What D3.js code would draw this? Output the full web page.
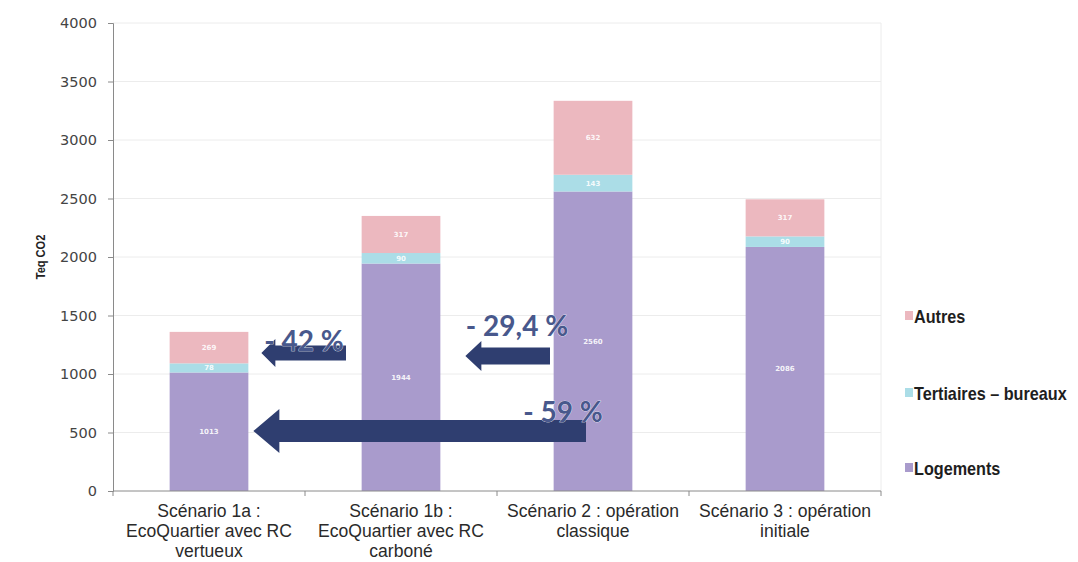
<!DOCTYPE html>
<html>
<head>
<meta charset="utf-8">
<script src="https://cdn.jsdelivr.net/npm/d3@7"></script>
<style>
  html, body { margin: 0; padding: 0; background: #fff; }
  svg { display: block; }
</style>
</head>
<body>
<svg id="chart" width="1078" height="562"></svg>
<script>
// Scenarios (x categories), each label split into lines
const categories = ["s1a", "s1b", "s2", "s3"];
const categoryLabels = [
  ["Scénario 1a :", "EcoQuartier avec RC", "vertueux"],
  ["Scénario 1b :", "EcoQuartier avec RC", "carboné"],
  ["Scénario 2 : opération", "classique"],
  ["Scénario 3 : opération", "initiale"]
];

// Series values (Teq CO2), stacked bottom to top
const seriesNames = ["Logements", "Tertiaires – bureaux", "Autres"];
const logements  = [1013, 1944, 2560, 2086];
const tertiaires = [78, 90, 143, 90];
const autres     = [269, 317, 632, 317];

const yTicks = [0, 500, 1000, 1500, 2000, 2500, 3000, 3500, 4000];

// Reduction annotations: arrow from scenario (from) pointing to scenario (to)
const reductions = [
  { text: "- 42 %",   from: 1, to: 0 },
  { text: "- 29,4 %", from: 2, to: 1 },
  { text: "- 59 %",   from: 2, to: 0 }
];

const colors = ["#a99bcc", "#abdde7", "#ecb8bf"];

const svg = d3.select("#chart");
const plotLeft = 113, plotRight = 881, plotTop = 23, plotBottom = 491;

const x = d3.scaleBand().domain(categories).range([plotLeft, plotRight]).paddingInner(0.59).paddingOuter(0.295);
const y = d3.scaleLinear().domain([0, 4000]).range([plotBottom, plotTop]);

// gridlines
svg.append("g").selectAll("line").data(yTicks.slice(1)).join("line")
  .attr("x1", plotLeft).attr("x2", plotRight)
  .attr("y1", d => y(d)).attr("y2", d => y(d))
  .attr("stroke", "#ececec").attr("stroke-width", 1);
svg.append("line").attr("x1", plotRight).attr("x2", plotRight).attr("y1", plotTop).attr("y2", plotBottom)
  .attr("stroke", "#ececec");

// stacked bars
const rows = categories.map((c, i) => ({ cat: c, Logements: logements[i], "Tertiaires – bureaux": tertiaires[i], Autres: autres[i] }));
const stacked = d3.stack().keys(seriesNames)(rows);

const layers = svg.append("g").selectAll("g").data(stacked).join("g")
  .attr("fill", (d, i) => colors[i]);
layers.selectAll("rect").data(d => d).join("rect")
  .attr("x", d => x(d.data.cat))
  .attr("width", x.bandwidth())
  .attr("y", d => y(d[1]))
  .attr("height", d => y(d[0]) - y(d[1]));

// value labels inside segments
layers.each(function (layer) {
  d3.select(this).selectAll("text").data(layer).join("text")
    .attr("x", d => x(d.data.cat) + x.bandwidth() / 2)
    .attr("y", d => (y(d[0]) + y(d[1])) / 2 + 2.5)
    .attr("text-anchor", "middle")
    .attr("font-family", "DejaVu Sans, sans-serif")
    .attr("font-size", 7)
    .attr("font-weight", "bold")
    .attr("fill", "#ffffff")
    .attr("fill-opacity", 0.9)
    .text(d => d.data[layer.key]);
});

// axes
const yAxis = svg.append("g").attr("transform", `translate(${plotLeft},0)`)
  .call(d3.axisLeft(y).tickValues(yTicks).tickSize(5).tickPadding(11).tickFormat(d3.format("d")));
yAxis.select(".domain").attr("stroke", "#8a8a8a");
yAxis.selectAll(".tick line").attr("stroke", "#8a8a8a");
yAxis.selectAll("text").attr("font-family", "DejaVu Sans, sans-serif").attr("font-size", 14.5).attr("fill", "#444");

const xAxis = svg.append("g").attr("transform", `translate(0,${plotBottom})`);
xAxis.append("line").attr("x1", plotLeft).attr("x2", plotRight).attr("stroke", "#8a8a8a");
const step = x.step();
xAxis.selectAll("line.tk").data(d3.range(categories.length + 1)).join("line")
  .attr("class", "tk")
  .attr("x1", i => plotLeft + i * step).attr("x2", i => plotLeft + i * step)
  .attr("y1", 0).attr("y2", 5).attr("stroke", "#8a8a8a");

// category labels, slightly condensed
const xl = svg.append("g").selectAll("g").data(categories).join("g")
  .attr("transform", d => `translate(${x(d) + x.bandwidth() / 2},517) scale(0.95,1)`);
xl.each(function (d, i) {
  d3.select(this).append("text")
    .attr("text-anchor", "middle")
    .attr("font-family", "Liberation Sans, Arial, sans-serif")
    .attr("font-size", 18.5)
    .attr("fill", "#2a2a2a")
    .selectAll("tspan").data(categoryLabels[i]).join("tspan")
    .attr("x", 0)
    .attr("dy", (t, j) => j === 0 ? 0 : 20)
    .text(t => t);
});

// y axis title
svg.append("g").attr("transform", `translate(45,${y(2000)}) rotate(-90)`)
  .append("text")
  .attr("transform", "scale(0.85,1)")
  .attr("text-anchor", "middle")
  .attr("font-family", "Liberation Sans, sans-serif")
  .attr("font-weight", "bold")
  .attr("font-size", 13)
  .attr("fill", "#222")
  .text("Teq CO2");

// legend
const legendY = [468, 393, 316];
const lg = svg.append("g").selectAll("g").data(seriesNames).join("g")
  .attr("transform", (d, i) => `translate(905,${legendY[i]})`);
lg.append("rect").attr("x", 0).attr("y", -5).attr("width", 8).attr("height", 9)
  .attr("fill", (d, i) => colors[i]);
lg.append("text").attr("transform", "translate(9,6.5) scale(0.9,1)")
  .attr("font-family", "Liberation Sans, sans-serif")
  .attr("font-weight", "bold")
  .attr("font-size", 18)
  .attr("fill", "#1e1e1e")
  .text(d => d);

// reduction arrows
const arrowColor = "#2f3e70";
function arrowPath(x0, x1, cy, bodyH, headH, headL) {
  // tip at x0 (left), tail at x1
  return `M${x0},${cy} L${x0 + headL},${cy - headH / 2} L${x0 + headL},${cy - bodyH / 2}
          L${x1},${cy - bodyH / 2} L${x1},${cy + bodyH / 2} L${x0 + headL},${cy + bodyH / 2}
          L${x0 + headL},${cy + headH / 2} Z`;
}
const arrowGeom = [
  { tip: x(categories[0]) + x.bandwidth() + 13, tail: 346, cy: 353, bodyH: 15, headH: 28, headL: 14, tx: 304, ty: 351 },
  { tip: x(categories[1]) + x.bandwidth() + 25, tail: 550, cy: 356, bodyH: 17, headH: 30, headL: 16, tx: 517, ty: 336 },
  { tip: x(categories[0]) + x.bandwidth() + 5,  tail: 586, cy: 431, bodyH: 22, headH: 44, headL: 26, tx: 563, ty: 422 }
];
const ann = svg.append("g");
reductions.forEach((r, i) => {
  const g = arrowGeom[i];
  ann.append("path").attr("d", arrowPath(g.tip, g.tail, g.cy, g.bodyH, g.headH, g.headL))
    .attr("fill", arrowColor);
});
reductions.forEach((r, i) => {
  const g = arrowGeom[i];
  ann.append("text").attr("x", g.tx).attr("y", g.ty)
    .attr("text-anchor", "middle")
    .attr("font-family", "Lato, Open Sans, sans-serif")
    .attr("font-weight", "bold")
    .attr("font-size", 28)
    .attr("fill", "#48588c")
    .attr("stroke", "#ffffff").attr("stroke-width", 0.6).attr("paint-order", "stroke")
    .text(r.text);
});
</script>
</body>
</html>
